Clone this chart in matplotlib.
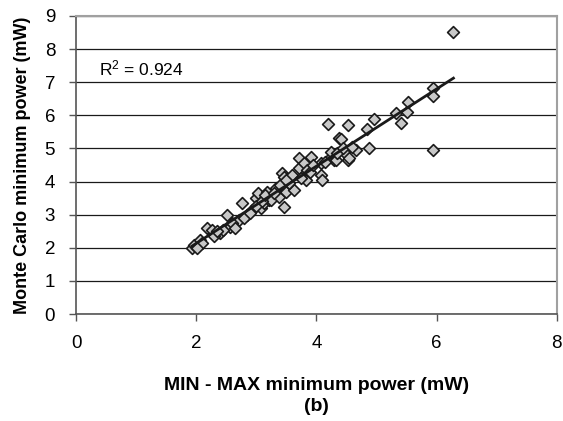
import numpy as np
import matplotlib
matplotlib.use("Agg")
import matplotlib.pyplot as plt

plt.rcParams['font.family'] = ['Liberation Sans', 'DejaVu Sans']
plt.rcParams['mathtext.default'] = 'regular'

# MIN-MAX estimate vs Monte Carlo estimate (mW)
minmax = [1.93, 1.96, 2.07, 2.10, 2.18, 2.27, 2.40, 2.52, 2.57, 2.71,
          2.77, 2.85, 2.93, 2.99, 3.02, 3.07, 3.13, 3.18, 3.21, 3.24,
          3.32, 3.37, 3.43, 3.46, 3.46, 3.49, 3.63, 3.71, 3.71, 3.80,
          3.82, 3.85, 3.91, 4.07, 4.07, 4.10, 4.20, 4.24, 4.30, 4.32,
          4.38, 4.41, 4.46, 4.52, 4.52, 4.55, 4.66, 4.85, 4.88, 4.96,
          5.33, 5.41, 5.51, 5.53, 5.94, 5.94, 5.94, 6.28,
          2.30, 2.45, 2.60, 2.65, 2.80, 2.90, 3.00, 3.10, 3.15, 3.30,
          3.40, 3.55, 3.60, 3.75, 3.90, 3.95, 4.15, 4.25, 4.35, 4.45,
          4.60, 2.02, 2.35, 3.50]
montecarlo = [1.98, 2.08, 2.24, 2.15, 2.59, 2.54, 2.44, 2.99, 2.64, 2.84,
              3.34, 2.99, 3.14, 3.50, 3.65, 3.19, 3.34, 3.70, 3.44, 3.44,
              3.80, 3.54, 4.25, 4.15, 3.24, 3.70, 3.75, 4.70, 4.40, 4.55,
              4.05, 4.35, 4.75, 4.55, 4.20, 4.05, 5.74, 4.75, 4.65, 4.65,
              5.31, 5.28, 4.90, 5.71, 4.65, 4.70, 4.95, 5.58, 5.00, 5.89,
              6.06, 5.78, 6.11, 6.41, 6.82, 6.59, 4.95, 8.53,
              2.35, 2.55, 2.75, 2.60, 2.90, 3.05, 3.25, 3.40, 3.60, 3.65,
              3.90, 3.95, 4.20, 4.10, 4.30, 4.50, 4.60, 4.90, 4.85, 5.00,
              5.05, 2.00, 2.50, 4.05]
r2_text = "R$^2$ = 0.924"

x = np.array(minmax)
y = np.array(montecarlo)
slope, icpt = np.polyfit(x, y, 1)
xf = np.array([x.min(), x.max()])

fig = plt.figure(figsize=(5.63, 4.21), dpi=100)
ax = fig.add_axes([0.135, 0.254, 0.854, 0.708])

ax.scatter(x, y, marker='D', s=36, facecolor='#c8c8c8', edgecolor='#1a1a1a',
           linewidth=1.2, zorder=3)
ax.plot(xf, slope * xf + icpt, color='#1a1a1a', lw=2, zorder=4)

ax.set_xlim(0, 8)
ax.set_ylim(0, 9)
ax.set_xticks(range(0, 9, 2))
ax.set_yticks(range(0, 10))
ax.yaxis.grid(True, color='#1a1a1a', lw=0.9)
ax.set_axisbelow(True)
for s in ['top', 'right']:
    ax.spines[s].set_color('#a0a0a0')
    ax.spines[s].set_linewidth(1.5)
for s in ['left', 'bottom']:
    ax.spines[s].set_color('#555555')
    ax.spines[s].set_linewidth(1.2)
ax.tick_params(labelsize=13.5, length=5, width=1, color='#555555', pad=10)

ax.set_xlabel('MIN - MAX minimum power (mW)\n(b)', fontsize=14,
              fontweight='bold', labelpad=18, linespacing=1.3)
ax.set_ylabel('Monte Carlo minimum power (mW)', fontsize=13,
              fontweight='bold', labelpad=10)
ax.text(0.38, 7.43, r2_text, fontsize=12.5, va='center')

fig.savefig('out.png', dpi=100)
